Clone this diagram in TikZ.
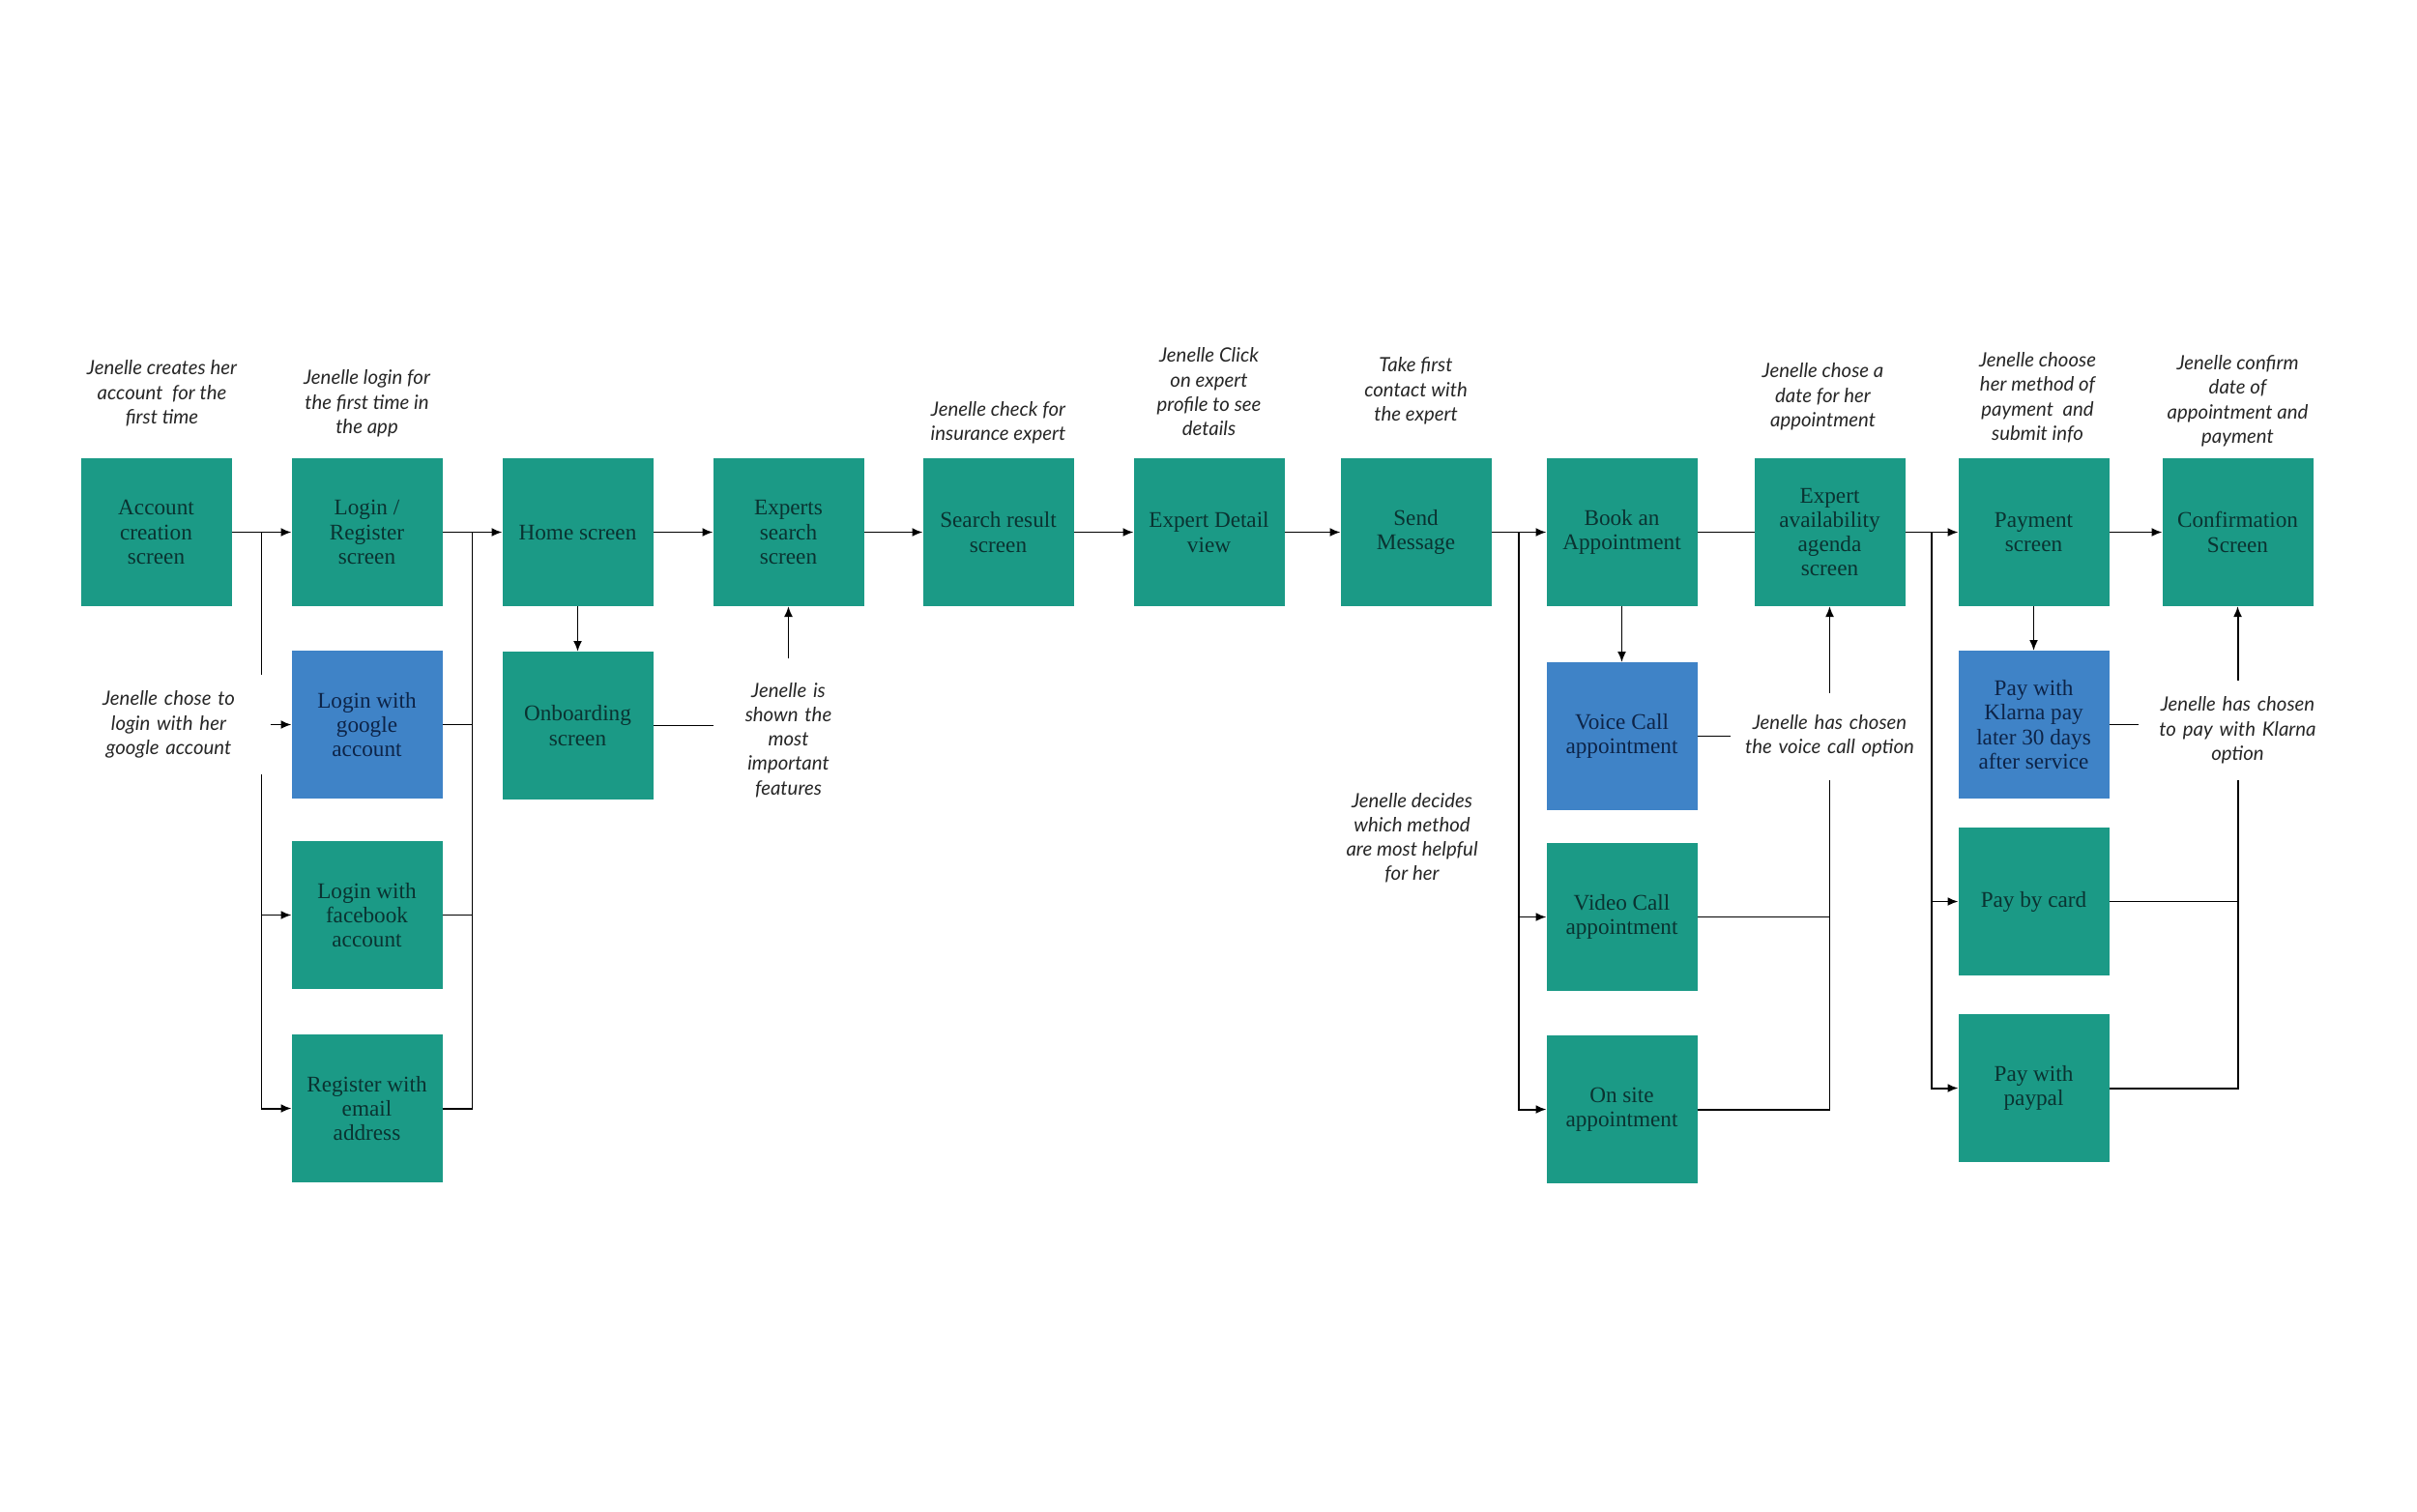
\documentclass[tikz,border=0pt]{standalone}
\usepackage{fontspec}
\setmainfont{Liberation Serif}
\newfontfamily\notefont{Lato}
\usepackage{xcolor}
\usepackage{tikz}
\usetikzlibrary{arrows.meta,positioning,calc}
\definecolor{tealbox}{HTML}{1B9A86}
\definecolor{bluebox}{HTML}{3F83C7}
\definecolor{tealtext}{HTML}{0A3331}
\definecolor{bluetext}{HTML}{0D2448}

\begin{document}
\begin{tikzpicture}[node distance=4.6mm and 6.2mm,
    screen/.style={fill=tealbox,text=tealtext,minimum width=15.6mm,minimum height=15.3mm,inner sep=0pt,outer sep=0pt,align=center,font=\fontsize{6.6}{7.2}\selectfont},
    picked/.style={screen,fill=bluebox,text=bluetext},
    note/.style={font=\notefont\itshape\fontsize{5.8}{7.2}\selectfont,align=center,inner sep=0pt,outer sep=0pt,text=black!85},
    flow/.style={-{Latex[length=1.1mm,width=0.9mm]},line width=0.55pt},
    link/.style={line width=0.55pt}]
    \useasboundingbox (0,0) rectangle (25,-15.63);
    \node[screen] (acc) at (1.615,-5.505) {Account\\creation\\screen};
    \node[screen,right=of acc] (login) {Login /\\Register\\screen};
    \node[screen,right=of login] (home) {Home screen};
    \node[screen,right=of home] (exp) {Experts\\search\\screen};
    \node[screen,right=6.1mm of exp] (search) {Search result\\screen};
    \node[screen,right=of search] (detail) {Expert Detail\\view};
    \node[screen,right=5.8mm of detail] (send) {Send\\Message};
    \node[screen,right=5.7mm of send] (book) {Book an\\Appointment};
    \node[screen,right=5.9mm of book] (avail) {Expert\\availability\\agenda\\screen};
    \node[screen,right=5.5mm of avail] (pay) {Payment\\screen};
    \node[screen,right=5.5mm of pay] (conf) {Confirmation\\Screen};
    \node[picked,below=of login] (google) {Login with\\google\\account};
    \node[screen,below=4.4mm of google] (fb) {Login with\\facebook\\account};
    \node[screen,below=4.7mm of fb] (reg) {Register with\\email\\address};
    \node[screen,below=4.7mm of home] (onb) {Onboarding\\screen};
    \node[picked,below=5.8mm of book] (voice) {Voice Call\\appointment};
    \node[screen,below=3.4mm of voice] (video) {Video Call\\appointment};
    \node[screen,below=4.6mm of video] (onsite) {On site\\appointment};
    \node[picked,below=of pay] (klarna) {Pay with\\Klarna pay\\later 30 days\\after service};
    \node[screen,below=3mm of klarna] (card) {Pay by card};
    \node[screen,below=4mm of card] (paypal) {Pay with\\paypal};
    \node[note,above=3.3mm of acc,xshift=0.6mm] (accnote) {Jenelle creates her\\account\ \ for the\\first time};
    \node[note,above=2.2mm of login] (loginnote) {Jenelle login for\\the first time in\\the app};
    \node[note,above=1.5mm of search] (searchnote) {Jenelle check for\\insurance expert};
    \node[note,above=2.3mm of detail] (detailnote) {Jenelle Click\\on expert\\profile to see\\details};
    \node[note,above=3.5mm of send] (sendnote) {Take first\\contact with\\the expert};
    \node[note,above=2.9mm of avail,xshift=-0.7mm] (availnote) {Jenelle chose a\\date for her\\appointment};
    \node[note,above=1.6mm of pay,xshift=0.4mm] (paynote) {Jenelle choose\\her method of\\payment\ \ and\\submit info};
    \node[note,above=1.2mm of conf] (confnote) {Jenelle confirm\\date of\\appointment and\\payment};
    \node[note,text width=21mm,minimum height=10.3mm,left=2.2mm of google] (gnote) {Jenelle chose to\\login with her\\google account};
    \node[note,text width=15.6mm,inner ysep=2.5mm,below=5.4mm of exp] (fnote) {Jenelle is\\shown the\\most\\important\\features};
    \node[note,below=19.3mm of send,xshift=-0.4mm] (dnote) {Jenelle decides\\which method\\are most helpful\\for her};
    \node[note,text width=20.6mm,minimum height=9mm] (vnote) at (avail |- voice) {Jenelle has chosen\\the voice call option};
    \node[note,text width=20.6mm,minimum height=10.3mm] (knote) at ($(conf |- klarna)+(0,-0.06)$) {Jenelle has chosen\\to pay with Klarna\\option};
    \coordinate (j1) at ($(acc.east)!0.5!(login.west)$);
    \coordinate (j2) at ($(login.east)!0.5!(home.west)$);
    \coordinate (j3) at ($(send.east)!0.5!(book.west)$);
    \coordinate (j4) at ($(avail.east)!0.5!(pay.west)$);
    \draw[flow] (acc) -- (login);
    \draw[link] (j1) -- (j1 |- gnote.north);
    \draw[flow] (j1 |- gnote.south) |- (fb);
    \draw[flow] (j1 |- gnote.south) |- (reg);
    \draw[flow] (gnote) -- (google);
    \draw[flow] (login) -- (home);
    \draw[link] (google) -- (google -| j2);
    \draw[link] (fb) -- (fb -| j2);
    \draw[link] (reg) -| (j2);
    \draw[flow] (home) -- (onb);
    \draw[link] (onb) -- (onb -| fnote.west);
    \draw[flow] (fnote) -- (exp);
    \draw[flow] (home) -- (exp);
    \draw[flow] (exp) -- (search);
    \draw[flow] (search) -- (detail);
    \draw[flow] (detail) -- (send);
    \draw[flow] (send) -- (book);
    \draw[flow] (j3) |- (video);
    \draw[flow] (j3) |- (onsite);
    \draw[flow] (book) -- (voice);
    \draw[link] (book) -- (avail);
    \draw[link] (voice) -- (vnote);
    \draw[flow] (vnote) -- (avail);
    \draw[link] (video) -| (vnote.south);
    \draw[link] (onsite) -| (vnote.south);
    \draw[flow] (avail) -- (pay);
    \draw[flow] (j4) |- (card);
    \draw[flow] (j4) |- (paypal);
    \draw[flow] (pay) -- (klarna);
    \draw[flow] (pay) -- (conf);
    \draw[link] (klarna) -- (klarna -| knote.west);
    \draw[flow] (knote) -- (conf);
    \draw[link] (card) -| (knote.south);
    \draw[link] (paypal) -| (knote.south);
\end{tikzpicture}
\end{document}
